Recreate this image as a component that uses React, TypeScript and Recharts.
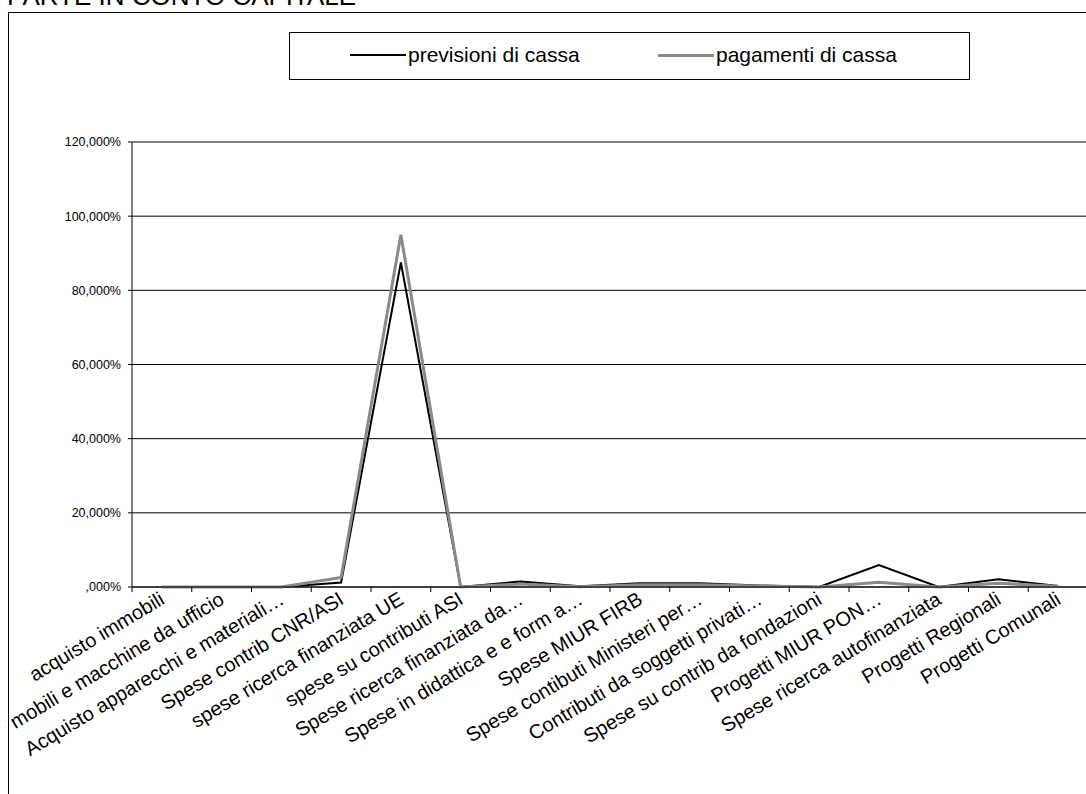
import { LineChart, Line, XAxis, YAxis, CartesianGrid } from "recharts";

const categories = [
  "acquisto immobili",
  "mobili e macchine da ufficio",
  "Acquisto apparecchi e materiali…",
  "Spese contrib CNR/ASI",
  "spese ricerca finanziata UE",
  "spese su contributi ASI",
  "Spese ricerca finanziata da…",
  "Spese in didattica e e form a…",
  "Spese MIUR FIRB",
  "Spese contibuti Ministeri per…",
  "Contributi da soggetti privati…",
  "Spese su contrib da fondazioni",
  "Progetti MIUR PON…",
  "Spese ricerca autofinanziata",
  "Progetti Regionali",
  "Progetti Comunali",
];

// percentuali
const previsioni = [0, 0, 0, 1.2, 87.5, 0, 1.5, 0.2, 1.0, 1.0, 0.4, 0, 5.9, 0, 2.1, 0.3];
const pagamenti = [0, 0, 0, 2.6, 95, 0, 0.8, 0.1, 0.6, 0.6, 0.3, 0, 1.3, 0, 1.0, 0.2];

const yTicks = [0, 20, 40, 60, 80, 100, 120];

const series = [
  { key: "previsioni", name: "previsioni di cassa", color: "#000000", width: 2 },
  { key: "pagamenti", name: "pagamenti di cassa", color: "#8a8a8a", width: 3 },
];

const data = categories.map((name, i) => ({
  name,
  previsioni: previsioni[i],
  pagamenti: pagamenti[i],
}));

const FONT = '"Liberation Sans", Arial, sans-serif';
const CHART_W = 1100;
const PLOT_LEFT = 132;
const PLOT_RIGHT = 1088;
const HALF = (PLOT_RIGHT - PLOT_LEFT) / categories.length / 2;

const fmtPct = (v: number) => (v === 0 ? ",000%" : `${v},000%`);

const CategoryTick = ({ x, y, payload }: any) => (
  <g>
    <line x1={x - HALF} x2={x - HALF} y1={y} y2={y + 5} stroke="#000" />
    <text
      x={x + 4}
      y={y + 16}
      textAnchor="end"
      fontSize={20}
      fontFamily={FONT}
      fill="#000"
      transform={`rotate(-31, ${x + 4}, ${y + 16})`}
    >
      {payload.value}
    </text>
  </g>
);

export default function App() {
  return (
    <div
      style={{
        position: "absolute",
        left: 0,
        top: 0,
        width: 1086,
        height: 794,
        overflow: "hidden",
        background: "#fff",
        fontFamily: FONT,
      }}
    >
      <div
        style={{
          position: "absolute",
          left: 7,
          top: -17,
          fontSize: 26,
          lineHeight: "26px",
          whiteSpace: "nowrap",
          color: "#000",
        }}
      >
        PARTE IN CONTO CAPITALE
      </div>
      <div
        style={{
          position: "absolute",
          left: 8,
          top: 12,
          width: 1200,
          height: 900,
          border: "1px solid #000",
        }}
      />
      <div style={{ position: "absolute", left: 0, top: 0 }}>
        <LineChart
          width={CHART_W}
          height={794}
          data={data}
          margin={{ top: 142, right: CHART_W - PLOT_RIGHT, bottom: 57, left: 32 }}
        >
          <CartesianGrid vertical={false} stroke="#000" strokeWidth={1} />
          <XAxis
            dataKey="name"
            interval={0}
            height={150}
            padding={{ left: HALF, right: HALF }}
            tickLine={false}
            tickSize={0}
            tickMargin={0}
            axisLine={{ stroke: "#000" }}
            tick={<CategoryTick />}
          />
          <YAxis
            width={100}
            domain={[0, 120]}
            ticks={yTicks}
            tickFormatter={fmtPct}
            tickSize={4}
            tickMargin={7}
            tickLine={{ stroke: "#000" }}
            axisLine={{ stroke: "#000" }}
            tick={{ fill: "#000", fontSize: 12.5, fontFamily: FONT }}
          />
          {series.map((s) => (
            <Line
              key={s.key}
              type="linear"
              dataKey={s.key}
              name={s.name}
              stroke={s.color}
              strokeWidth={s.width}
              dot={false}
              activeDot={false}
              isAnimationActive={false}
            />
          ))}
        </LineChart>
      </div>
      <div
        style={{
          position: "absolute",
          left: 289,
          top: 32,
          width: 681,
          height: 48,
          border: "1px solid #000",
          boxSizing: "border-box",
          background: "#fff",
        }}
      >
        {series.map((s, i) => (
          <div
            key={s.key}
            style={{
              position: "absolute",
              left: i === 0 ? 60 : 368,
              top: 10,
              display: "flex",
              alignItems: "center",
              whiteSpace: "nowrap",
            }}
          >
            <div style={{ width: 56, height: s.width, background: s.color }} />
            <span style={{ fontSize: 21, marginLeft: 2, color: "#000" }}>{s.name}</span>
          </div>
        ))}
      </div>
    </div>
  );
}
